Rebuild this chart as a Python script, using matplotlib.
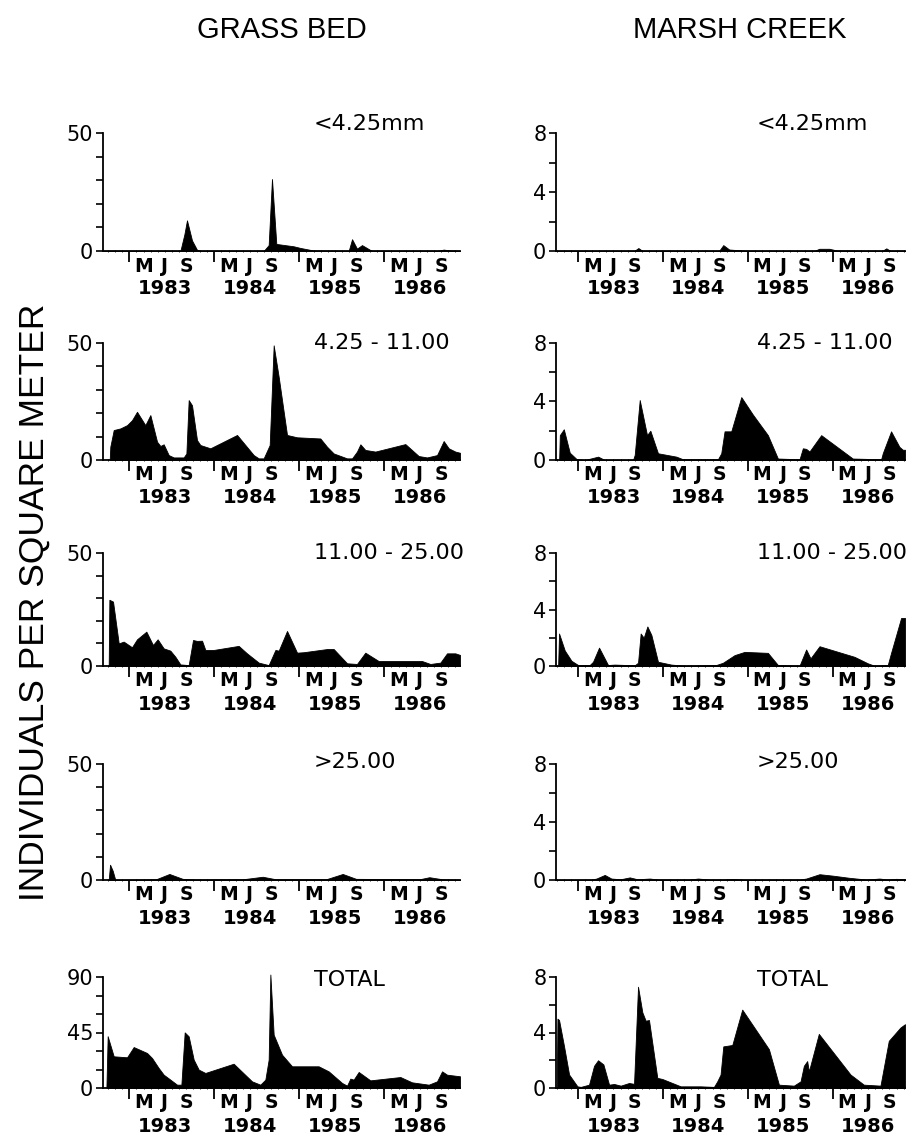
"""
Abundance by size class, grass bed vs marsh creek, 1983-1986
"""

import numpy as np
import matplotlib
matplotlib.use("Agg")
import matplotlib.pyplot as plt
from matplotlib.ticker import MultipleLocator

# ---- labels
sites = ["GRASS BED", "MARSH CREEK"]
size_classes = ["<4.25mm", "4.25 - 11.00", "11.00 - 25.00", ">25.00", "TOTAL"]
years = [1983, 1984, 1985, 1986]
month_labels = ["M", "J", "S"]
month_index = [2, 5, 8]

# ---- grass bed (decimal year, individuals per m2)
gb_lt425_t = [1982.70, 1983.60, 1983.647, 1983.678, 1983.737, 1983.796, 1983.835,
              1984.580, 1984.639, 1984.678, 1984.729, 1984.933, 1985.012, 1985.169,
              1985.580, 1985.620, 1985.678, 1985.737, 1985.855, 1986.620, 1986.698,
              1986.776, 1986.89]
gb_lt425_v = [0, 0, 7, 13, 4.5, 0.5, 0, 0, 2.5, 30.5, 3, 2, 1.3, 0.2,
              0, 5, 1, 2.5, 0, 0, 0.6, 0.2, 0]

gb_mid_t = [1982.769, 1982.776, 1982.816, 1982.894, 1982.973, 1983.031, 1983.090,
            1983.188, 1983.247, 1983.326, 1983.365, 1983.404, 1983.463, 1983.522,
            1983.639, 1983.671, 1983.698, 1983.737, 1983.796, 1983.835, 1983.953,
            1984.267, 1984.463, 1984.522, 1984.580, 1984.651, 1984.698, 1984.757,
            1984.855, 1984.973, 1985.247, 1985.325, 1985.404, 1985.561, 1985.620,
            1985.678, 1985.718, 1985.776, 1985.894, 1986.247, 1986.404, 1986.502,
            1986.620, 1986.698, 1986.757, 1986.835, 1986.89]
gb_mid_v = [0, 5.7, 12.8, 13.5, 14.9, 17, 20.6, 14.9, 19.2, 7.8, 6, 6.7, 2.1, 1.1,
            1.1, 2.8, 25.6, 23.4, 8.5, 6.4, 5, 10.7, 2.1, 0.7, 0.7, 6.4, 49, 35.5,
            10.7, 9.7, 9.2, 5.7, 2.8, 0.7, 0.7, 3.6, 6.7, 4.3, 3.6, 6.8, 1.7, 1.1,
            2.1, 8.1, 5, 3.6, 3.1]

gb_large_t = [1982.757, 1982.765, 1982.808, 1982.875, 1982.933, 1983.031, 1983.090,
              1983.200, 1983.278, 1983.333, 1983.404, 1983.482, 1983.541, 1983.600,
              1983.698, 1983.749, 1983.796, 1983.855, 1983.894, 1983.992, 1984.286,
              1984.384, 1984.522, 1984.639, 1984.718, 1984.757, 1984.855, 1984.973,
              1985.051, 1985.325, 1985.404, 1985.561, 1985.678, 1985.776, 1985.933,
              1986.443, 1986.541, 1986.659, 1986.737, 1986.835, 1986.89]
gb_large_v = [0, 29.3, 28.5, 10, 10.8, 8.3, 11.8, 15.2, 9.3, 11.8, 7.8, 6.8, 4.1, 0.7,
              0.4, 11.5, 11.1, 11.2, 7.1, 7.1, 8.9, 5.6, 1.5, 0.4, 7.1, 6.8, 15.5, 5.9,
              6.1, 7.5, 7.5, 1.2, 0.9, 5.9, 2.2, 2.2, 0.9, 1.5, 5.6, 5.6, 4.9]

gb_xl_t = [1982.757, 1982.773, 1982.804, 1982.835, 1983.314, 1983.471, 1983.627,
           1983.780, 1984.333, 1984.569, 1984.725, 1985.314, 1985.510, 1985.667,
           1986.412, 1986.529, 1986.686, 1986.89]
gb_xl_v = [0, 6.6, 4, 0, 0.3, 2.6, 0.5, 0.2, 0.3, 1.4, 0.3, 0.3, 2.6, 0.5,
           0.3, 1.2, 0.3, 0.1]

gb_total_t = [1982.730, 1982.745, 1982.816, 1982.973, 1983.051, 1983.208, 1983.267,
              1983.345, 1983.404, 1983.482, 1983.561, 1983.612, 1983.651, 1983.698,
              1983.757, 1983.816, 1983.894, 1984.227, 1984.443, 1984.541, 1984.600,
              1984.639, 1984.659, 1984.698, 1984.796, 1984.914, 1985.227, 1985.345,
              1985.502, 1985.561, 1985.600, 1985.639, 1985.698, 1985.835, 1986.188,
              1986.325, 1986.522, 1986.620, 1986.679, 1986.737, 1986.89]
gb_total_v = [0, 42, 25.7, 24.9, 33.2, 28.4, 24.3, 16.2, 10.8, 6.8, 2.7, 2.7, 45.1, 41.9,
              23, 14.9, 12.2, 19.7, 5.4, 2.7, 6.8, 23, 92, 43.2, 27, 17.6, 17.6, 13.5,
              4.1, 1.9, 7.6, 6.8, 13, 6.2, 8.9, 4.6, 2.7, 5.4, 13.5, 10.8, 9.5]

# ---- marsh creek
mc_lt425_t = [1982.73, 1983.66, 1983.71, 1983.76, 1984.66, 1984.71, 1984.78, 1984.90,
              1985.00, 1985.78, 1985.84, 1985.96, 1986.05, 1986.58, 1986.63, 1986.68,
              1986.85]
mc_lt425_v = [0, 0, 0.2, 0, 0, 0.4, 0.1, 0.05, 0, 0, 0.15, 0.15, 0.03, 0, 0.18, 0, 0]

mc_mid_t = [1982.777, 1982.785, 1982.832, 1982.902, 1982.981, 1983.079, 1983.236,
            1983.314, 1983.647, 1983.667, 1983.726, 1983.812, 1983.851, 1983.941,
            1984.157, 1984.235, 1984.647, 1984.686, 1984.725, 1984.804, 1984.922,
            1985.059, 1985.235, 1985.353, 1985.608, 1985.647, 1985.686, 1985.725,
            1985.863, 1986.235, 1986.569, 1986.588, 1986.686, 1986.784, 1986.824,
            1986.85]
mc_mid_v = [0, 1.7, 2.1, 0.5, 0.07, 0, 0.23, 0, 0, 0.35, 4.1, 1.7, 2.0, 0.46,
            0.23, 0.05, 0.05, 0.46, 1.96, 1.96, 4.3, 3.1, 1.7, 0.1, 0.05, 0.8, 0.76,
            0.58, 1.7, 0.1, 0.05, 0.46, 1.96, 0.9, 0.7, 0.7]

mc_large_t = [1982.765, 1982.776, 1982.843, 1982.922, 1983.000, 1983.137, 1983.176,
              1983.247, 1983.353, 1983.431, 1983.667, 1983.706, 1983.737, 1983.773,
              1983.816, 1983.863, 1983.941, 1984.098, 1984.255, 1984.627, 1984.706,
              1984.843, 1984.961, 1985.235, 1985.353, 1985.608, 1985.686, 1985.737,
              1985.843, 1986.255, 1986.412, 1986.490, 1986.647, 1986.686, 1986.804,
              1986.85]
mc_large_v = [0, 2.3, 1.1, 0.37, 0.07, 0.07, 0.3, 1.3, 0.07, 0.1, 0.05, 0.23, 2.3, 2.0,
              2.8, 2.2, 0.3, 0.1, 0.02, 0.07, 0.23, 0.77, 1.0, 0.93, 0.07, 0.02, 1.17,
              0.54, 1.4, 0.65, 0.19, 0.02, 0.07, 0.93, 3.4, 3.4]

mc_xl_t = [1982.74, 1983.15, 1983.216, 1983.314, 1983.392, 1983.50, 1983.608, 1983.70,
           1983.843, 1983.95, 1984.30, 1984.412, 1984.55, 1984.70, 1984.824, 1984.95,
           1985.60, 1985.686, 1985.843, 1986.00, 1986.196, 1986.40, 1986.549, 1986.65,
           1986.745, 1986.85]
mc_xl_v = [0, 0.02, 0.1, 0.35, 0.1, 0.05, 0.18, 0.05, 0.1, 0.03, 0.02, 0.1, 0.03, 0.03,
           0.07, 0.02, 0.02, 0.1, 0.4, 0.3, 0.15, 0.03, 0.1, 0.03, 0.08, 0.05]

mc_total_t = [1982.749, 1982.757, 1982.776, 1982.835, 1982.894, 1982.992, 1983.031,
              1983.129, 1983.188, 1983.235, 1983.298, 1983.365, 1983.424, 1983.502,
              1983.600, 1983.659, 1983.706, 1983.757, 1983.796, 1983.835, 1983.933,
              1983.992, 1984.208, 1984.443, 1984.600, 1984.639, 1984.678, 1984.710,
              1984.816, 1984.933, 1985.247, 1985.365, 1985.541, 1985.620, 1985.659,
              1985.698, 1985.718, 1985.835, 1986.208, 1986.365, 1986.561, 1986.659,
              1986.796, 1986.85]
mc_total_v = [0, 5.0, 4.9, 3.0, 0.97, 0.12, 0.08, 0.24, 1.6, 2.0, 1.7, 0.24, 0.29, 0.17,
              0.36, 0.3, 7.3, 5.45, 4.85, 4.9, 0.73, 0.65, 0.12, 0.12, 0.08, 0.48, 0.97,
              3.0, 3.1, 5.65, 2.8, 0.24, 0.17, 0.48, 1.6, 1.94, 1.2, 3.9, 0.97, 0.24,
              0.17, 3.4, 4.36, 4.6]

series = [
    [(gb_lt425_t, gb_lt425_v), (gb_mid_t, gb_mid_v), (gb_large_t, gb_large_v),
     (gb_xl_t, gb_xl_v), (gb_total_t, gb_total_v)],
    [(mc_lt425_t, mc_lt425_v), (mc_mid_t, mc_mid_v), (mc_large_t, mc_large_v),
     (mc_xl_t, mc_xl_v), (mc_total_t, mc_total_v)],
]

# y scales per column / row
ymax = [[50, 50, 50, 50, 90], [8, 8, 8, 8, 8]]
ymajor = [[[0, 50]] * 4 + [[0, 45, 90]], [[0, 4, 8]] * 5]
yminor = [[10, 10, 10, 10, 15], [2, 2, 2, 2, 2]]

# ---- layout (pixels)
W, H = 907, 1140
col_x = [(103, 357), (556, 349)]
col_xlim = [(1982.69, 1986.89), (1982.74, 1986.85)]
row_y = [(133, 251), (343, 460), (553, 666), (764, 880), (977, 1088)]
label_x = [0.59, 0.575]
label_y = [1.08, 1.0, 1.0, 1.02, 0.97]

fig = plt.figure(figsize=(W / 100, H / 100), dpi=100)

for c in range(2):
    x0, w = col_x[c]
    for r in range(5):
        top, zero = row_y[r]
        ax = fig.add_axes([x0 / W, 1 - zero / H, w / W, (zero - top) / H])
        t, v = series[c][r]
        ax.fill_between(t, v, 0, color="black", lw=0.6, clip_on=False)

        ax.set_xlim(*col_xlim[c])
        ax.set_ylim(0, ymax[c][r])
        for s in ["top", "right"]:
            ax.spines[s].set_visible(False)
        for s in ["left", "bottom"]:
            ax.spines[s].set_linewidth(1.3)

        ax.set_xticks(years)
        ax.xaxis.set_minor_locator(MultipleLocator(1 / 12))
        ax.tick_params(axis="x", which="major", length=8, width=1.3,
                       direction="out", labelbottom=False)
        ax.tick_params(axis="x", which="minor", length=2, width=0.6,
                       direction="inout")

        ax.set_yticks(ymajor[c][r])
        ax.set_yticklabels([str(m) for m in ymajor[c][r]])
        ax.yaxis.set_minor_locator(MultipleLocator(yminor[c][r]))
        ax.tick_params(axis="y", which="both", length=5, width=1.2,
                       direction="out", labelsize=15, pad=2)

        for yr in years:
            for lab, m in zip(month_labels, month_index):
                ax.annotate(lab, xy=(yr + m / 12, 0),
                            xycoords=("data", "axes fraction"),
                            xytext=(0, -15), textcoords="offset pixels",
                            ha="center", va="center", fontsize=13.5,
                            fontweight="bold")
            ax.annotate(str(yr), xy=(yr + 5 / 12, 0),
                        xycoords=("data", "axes fraction"),
                        xytext=(0, -38), textcoords="offset pixels",
                        ha="center", va="center", fontsize=14,
                        fontweight="bold")

        ax.text(label_x[c], label_y[r], size_classes[r], transform=ax.transAxes,
                ha="left", va="center", fontsize=16)

fig.text(282 / W, 1 - 30 / H, sites[0], ha="center", va="center",
         fontsize=21, family=["Liberation Sans", "DejaVu Sans"])
fig.text(740 / W, 1 - 30 / H, sites[1], ha="center", va="center",
         fontsize=21, family=["Liberation Sans", "DejaVu Sans"])
fig.text(34 / W, 1 - 602 / H, "INDIVIDUALS PER SQUARE METER", rotation=90,
         ha="center", va="center", fontsize=25.5,
         family=["Liberation Sans", "DejaVu Sans"])

fig.savefig("out.png", dpi=100)
